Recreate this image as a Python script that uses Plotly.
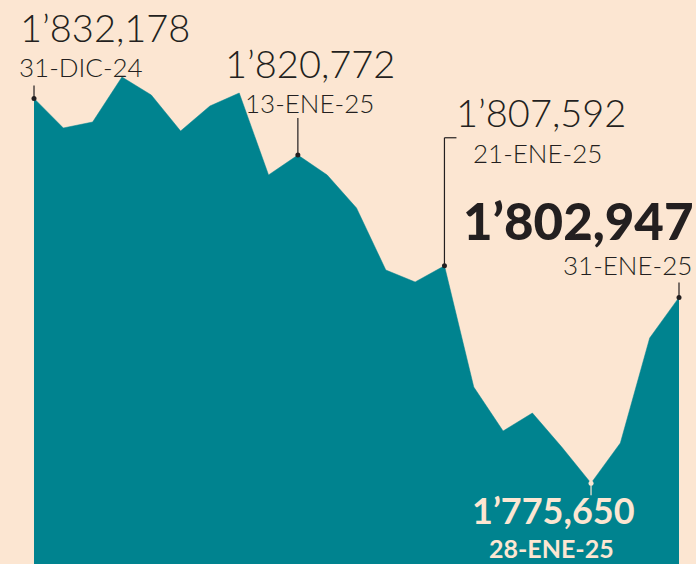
import plotly.graph_objects as go

# ---- data ----
dates = ["31-DIC-24", "01-ENE-25", "02-ENE-25", "03-ENE-25", "06-ENE-25", "07-ENE-25",
         "08-ENE-25", "09-ENE-25", "10-ENE-25", "13-ENE-25", "14-ENE-25", "15-ENE-25",
         "16-ENE-25", "17-ENE-25", "21-ENE-25", "22-ENE-25", "23-ENE-25", "24-ENE-25",
         "27-ENE-25", "28-ENE-25", "29-ENE-25", "30-ENE-25", "31-ENE-25"]
values = [1832178, 1827830, 1828710, 1835320, 1832680, 1827390,
          1831060, 1832970, 1820930, 1823860, 1820930, 1816080,
          1806970, 1805210, 1807592, 1789780, 1783320, 1785960,
          1780970, 1775650, 1781560, 1796980, 1802947]

label_dates = ["31-DIC-24", "13-ENE-25", "21-ENE-25", "31-ENE-25", "28-ENE-25"]
label_values = ["1’832,178", "1’820,772", "1’807,592", "1’802,947", "1’775,650"]

TEAL = "#00838F"
BG = "#FCE6D2"
INK = "#231F20"
FONT = "Lato"

fig = go.Figure()
fig.add_trace(go.Scatter(
    x=dates, y=values, mode="lines", fill="tozeroy",
    fillcolor=TEAL, line=dict(color=TEAL, width=0.5), hoverinfo="skip",
))

idx = {d: i for i, d in enumerate(dates)}
vals = {d: values[idx[d]] for d in dates}

specs = {
    "31-DIC-24": dict(num=dict(xa="left", xs=-16, ys=71, size=38, weight=300),
                      dat=dict(xa="left", xs=-17, ys=31, size=26, weight=300),
                      color=INK, lead=13),
    "13-ENE-25": dict(num=dict(xa="left", xs=-75, ys=92, size=38, weight=300),
                      dat=dict(xa="left", xs=-55, ys=52, size=26, weight=300),
                      color=INK, lead=37),
    "21-ENE-25": dict(num=dict(xa="left", xs=10, ys=154, size=38, weight=300),
                      dat=dict(xa="left", xs=27, ys=113, size=26, weight=300),
                      color=INK, lead=128, bracket=12),
    "31-ENE-25": dict(num=dict(xa="right", xs=17, ys=77, size=51, weight=900),
                      dat=dict(xa="right", xs=15, ys=32, size=26, weight=300),
                      color=INK, lead=15),
    "28-ENE-25": dict(num=dict(xa="center", xs=-38, ys=-27, size=36, weight=700),
                      dat=dict(xa="center", xs=-40, ys=-65, size=25, weight=700),
                      color=BG, lead=-12),
}

mx, my, mc = [], [], []
for d, txt in zip(label_dates, label_values):
    s = specs[d]
    v = vals[d]
    for key, text in (("num", txt), ("dat", d)):
        p = s[key]
        fig.add_annotation(
            x=d, y=v, xref="x", yref="y", text=text, showarrow=False,
            xanchor=p["xa"], yanchor="middle", xshift=p["xs"], yshift=p["ys"],
            font=dict(family=FONT, size=p["size"], color=s["color"], weight=p["weight"]),
        )
    fig.add_shape(type="line", xref="x", yref="y", x0=d, x1=d,
                  ysizemode="pixel", yanchor=v, y0=0, y1=s["lead"],
                  line=dict(color=s["color"], width=1.2))
    if "bracket" in s:
        fig.add_shape(type="line", xref="x", yref="y", xsizemode="pixel", xanchor=d,
                      x0=0, x1=s["bracket"], ysizemode="pixel", yanchor=v,
                      y0=s["lead"], y1=s["lead"],
                      line=dict(color=s["color"], width=1.2))
    mx.append(d); my.append(v); mc.append(s["color"])

fig.add_trace(go.Scatter(x=mx, y=my, mode="markers",
                         marker=dict(size=5, color=mc), hoverinfo="skip"))

n = len(dates)
fig.update_xaxes(type="category", range=[-1.16, n - 1 + 0.58], visible=False, fixedrange=True)
fig.update_yaxes(range=[1763781, 1846633], visible=False, fixedrange=True)
fig.update_layout(
    width=696, height=564, margin=dict(l=0, r=0, t=0, b=0),
    paper_bgcolor=BG, plot_bgcolor=BG, showlegend=False,
)
fig.write_html("out.html", config={"displayModeBar": False},
               post_script="document.body.style.margin='0';document.body.style.overflow='hidden';")
